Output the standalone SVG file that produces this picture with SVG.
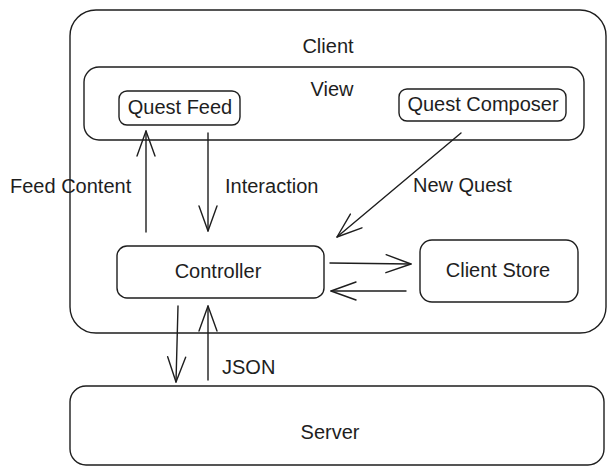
<svg xmlns="http://www.w3.org/2000/svg" width="613" height="475" viewBox="0 0 613 475">
  <style>
    .box { fill: none; stroke: #1e1e1e; stroke-width: 1.4; stroke-linejoin: round; }
    .edge { fill: none; stroke: #1e1e1e; stroke-width: 1.4; stroke-linecap: round; }
    .lbl { font-family: "Liberation Sans", Arial, Helvetica, sans-serif; font-size: 20px; fill: #1e1e1e; }
    .mid { text-anchor: middle; }
  </style>
  <defs>
    <marker id="head" viewBox="-26 -12 28 24" markerWidth="28" markerHeight="24" refX="0" refY="0" orient="auto" markerUnits="userSpaceOnUse">
      <path d="M-25 -9 L0 0 L-25 9" fill="none" stroke="#1e1e1e" stroke-width="1.4" stroke-linecap="round" stroke-linejoin="round"/>
    </marker>
  </defs>
  <rect width="613" height="475" fill="#ffffff"/>

  <g id="client">
    <rect class="box" x="70" y="10" width="536" height="323" rx="26"/>
    <text class="lbl mid" x="328" y="46" dy="0.35em">Client</text>
  </g>
  <g id="view">
    <rect class="box" x="84" y="67" width="500" height="73" rx="15"/>
    <text class="lbl mid" x="332" y="89" dy="0.35em">View</text>
  </g>
  <g id="quest-feed">
    <rect class="box" x="119" y="91" width="121" height="34" rx="8"/>
    <text class="lbl mid" x="180" y="107" dy="0.35em">Quest Feed</text>
  </g>
  <g id="quest-composer">
    <rect class="box" x="399" y="89" width="167" height="32" rx="8"/>
    <text class="lbl mid" x="483" y="104" dy="0.35em">Quest Composer</text>
  </g>
  <g id="controller">
    <rect class="box" x="117" y="246" width="207" height="52" rx="10"/>
    <text class="lbl mid" x="218" y="271" dy="0.35em">Controller</text>
  </g>
  <g id="client-store">
    <rect class="box" x="420" y="240" width="158" height="62" rx="12"/>
    <text class="lbl mid" x="498" y="270" dy="0.35em">Client Store</text>
  </g>
  <g id="server">
    <rect class="box" x="70" y="386" width="534" height="79" rx="16"/>
    <text class="lbl mid" x="330" y="432" dy="0.35em">Server</text>
  </g>

  <g id="connectors">
    <line class="edge" x1="146" y1="232" x2="146" y2="131" marker-end="url(#head)"/>
    <line class="edge" x1="208" y1="133" x2="208" y2="231" marker-end="url(#head)"/>
    <line class="edge" x1="461" y1="133" x2="337" y2="237" marker-end="url(#head)"/>
    <line class="edge" x1="330" y1="263" x2="411" y2="264" marker-end="url(#head)"/>
    <line class="edge" x1="406" y1="291" x2="331" y2="291" marker-end="url(#head)"/>
    <line class="edge" x1="178" y1="306" x2="176" y2="382" marker-end="url(#head)"/>
    <line class="edge" x1="208" y1="380" x2="208" y2="306" marker-end="url(#head)"/>
    <text class="lbl" x="10" y="186" dy="0.35em">Feed Content</text>
    <text class="lbl" x="225" y="186" dy="0.35em">Interaction</text>
    <text class="lbl" x="413" y="185" dy="0.35em">New Quest</text>
    <text class="lbl" x="222" y="367" dy="0.35em">JSON</text>
  </g>
</svg>
